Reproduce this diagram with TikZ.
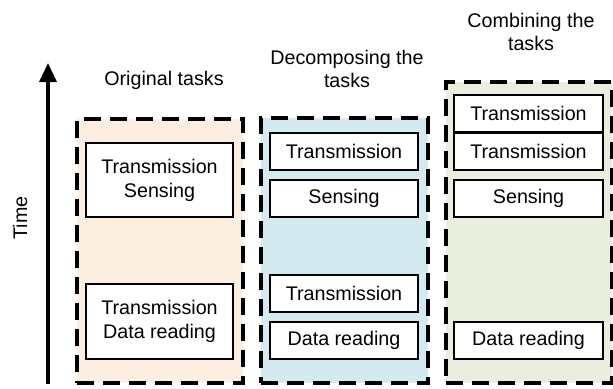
\documentclass[tikz,border=0pt]{standalone}
\usepackage{fontspec}
\setmainfont{Liberation Sans}
\usetikzlibrary{arrows.meta}

\definecolor{origfill}{RGB}{253,238,226}
\definecolor{decofill}{RGB}{210,234,240}
\definecolor{combfill}{RGB}{234,238,222}

\tikzset{
  grp/.style={draw, line width=2.2pt, dash pattern=on 8.5pt off 4.5pt, inner sep=0pt},
  task/.style={draw, fill=white, line width=1pt, inner sep=0pt, align=center,
    font=\fontsize{9.85pt}{12pt}\selectfont},
  ttl/.style={align=center, font=\fontsize{9.85pt}{11.5pt}\selectfont}
}

\begin{document}
\begin{tikzpicture}[x=0.5pt, y=-0.5pt]
\useasboundingbox (0,0) rectangle (613,388);
%time axis
\coordinate (tbot) at (48, 384);
\coordinate (ttop) at (48, 63);
\draw[line width=1.75pt, -{Triangle[length=9.5pt, width=8.5pt]}] (tbot) -- (ttop);
\node[rotate=90, font=\fontsize{9.85pt}{11.5pt}\selectfont] (time) at (20, 218) {Time};
%groups
\node[grp, fill=origfill, minimum width=83pt, minimum height=132pt] (orig) at (160, 251) {};
\node[grp, fill=decofill, minimum width=83.5pt, minimum height=132.5pt] (deco) at (344.5, 250.5) {};
\node[grp, fill=combfill, minimum width=83pt, minimum height=150.5pt] (comb) at (529, 232.5) {};
%titles
\node[ttl] (origt) at (164, 80) {Original tasks};
\node[ttl] (decot) at (347, 68.5) {Decomposing the\\tasks};
\node[ttl] (combt) at (531, 31.5) {Combining the\\tasks};
%original tasks
\node[task, minimum width=73.5pt, minimum height=37pt] (a1) at (159.5, 180) {Transmission\\Sensing};
\node[task, minimum width=73.5pt, minimum height=37.5pt] (a2) at (159.5, 321.5) {Transmission\\Data reading};
%decomposed
\foreach \n/\y/\t in {b1/151.5/Transmission, b2/198.5/Sensing, b3/293.5/Transmission, b4/340.5/Data reading}
  \node[task, minimum width=74pt, minimum height=18.5pt] (\n) at (344, \y) {\t};
%combined
\foreach \n/\y/\t in {c1/113.5/Transmission, c2/151/Transmission, c3/198.5/Sensing, c4/340.5/Data reading}
  \node[task, minimum width=74.5pt, minimum height=18.5pt] (\n) at (528.5, \y) {\t};
\end{tikzpicture}
\end{document}
